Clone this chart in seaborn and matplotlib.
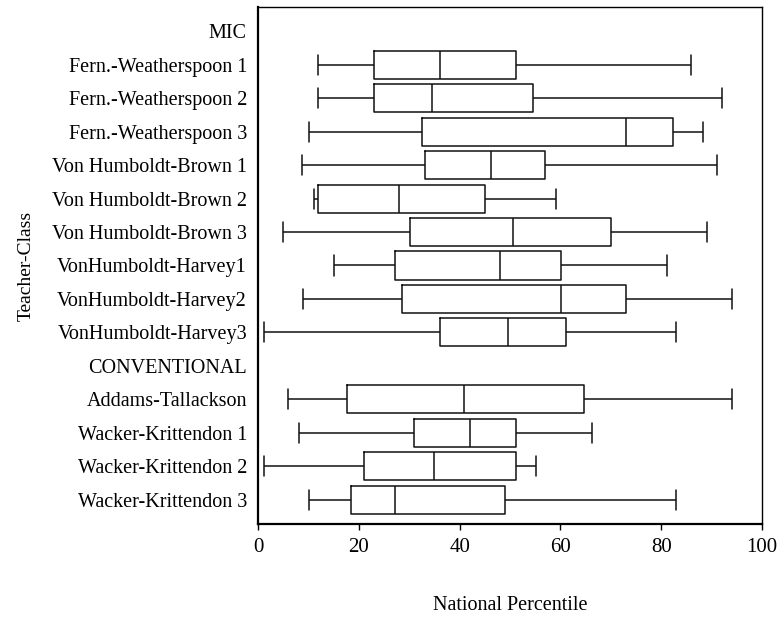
import numpy as np
import pandas as pd
import matplotlib
matplotlib.use("Agg")
import matplotlib.pyplot as plt
import seaborn as sns

# === Data (five-number summaries) ===
rows = ["MIC",
        "Fern.-Weatherspoon 1", "Fern.-Weatherspoon 2", "Fern.-Weatherspoon 3",
        "Von Humboldt-Brown 1", "Von Humboldt-Brown 2", "Von Humboldt-Brown 3",
        "VonHumboldt-Harvey1", "VonHumboldt-Harvey2", "VonHumboldt-Harvey3",
        "CONVENTIONAL",
        "Addams-Tallackson",
        "Wacker-Krittendon 1", "Wacker-Krittendon 2", "Wacker-Krittendon 3"]

classes = [r for r in rows if r not in ("MIC", "CONVENTIONAL")]
lo  = [12.0, 12.0, 10.1,  8.7, 11.1,  4.9, 15.0,  9.0,  1.1,  6.0,  8.1,  1.1, 10.1]
q1  = [23.1, 23.1, 32.5, 33.1, 12.0, 30.2, 27.1, 28.5, 36.1, 17.7, 31.0, 21.0, 18.5]
med = [36.1, 34.5, 73.0, 46.2, 28.0, 50.5, 48.1, 60.1, 49.7, 40.9, 42.1, 35.0, 27.1]
q3  = [51.1, 54.6, 82.3, 57.0, 45.0, 70.0, 60.1, 73.1, 61.1, 64.6, 51.1, 51.1, 49.1]
hi  = [86.0, 92.0, 88.2, 91.1, 59.1, 89.0, 81.2, 94.1, 83.0, 94.1, 66.3, 55.2, 83.0]

# five points per class -> quartiles land exactly on the read values
recs = []
for i, c in enumerate(classes):
    for v in (lo[i], q1[i], med[i], q3[i], hi[i]):
        recs.append({"Teacher-Class": c, "National Percentile": v})
df = pd.DataFrame(recs)

sns.set_style("white")
plt.rcParams["font.family"] = ["Liberation Serif", "DejaVu Serif"]
plt.rcParams.update({"text.color": "black", "axes.labelcolor": "black",
                     "xtick.color": "black", "ytick.color": "black"})

fig = plt.figure(figsize=(7.8, 6.18), dpi=100)
ax = fig.add_axes([0.3308, 0.1521, 0.6461, 0.8366])

sns.boxplot(data=df, x="National Percentile", y="Teacher-Class", order=rows,
            orient="h", whis=(0, 100), width=0.84, fill=False, color="#111111",
            linewidth=1.1, capwidths=0.6, ax=ax)

ax.set_xlim(0, 100)
ax.set_ylim(len(rows) - 1 + 0.73, -0.73)
ax.set_xticks([0, 20, 40, 60, 80, 100])
ax.tick_params(axis="x", labelsize=15, length=4, width=1, direction="out",
               bottom=True, pad=6)
ax.tick_params(axis="y", labelsize=14.5, length=0, pad=8)
ax.set_xlabel("National Percentile", fontsize=14.5)
ax.set_ylabel("Teacher-Class", fontsize=14)
ax.xaxis.set_label_coords(0.5, -0.14)
ax.yaxis.set_label_coords(-0.444, 0.5)

for side, lw in (("left", 1.6), ("bottom", 1.6), ("top", 1.0), ("right", 1.0)):
    ax.spines[side].set_visible(True)
    ax.spines[side].set_color("black")
    ax.spines[side].set_linewidth(lw)

plt.savefig("out.png", dpi=100)
